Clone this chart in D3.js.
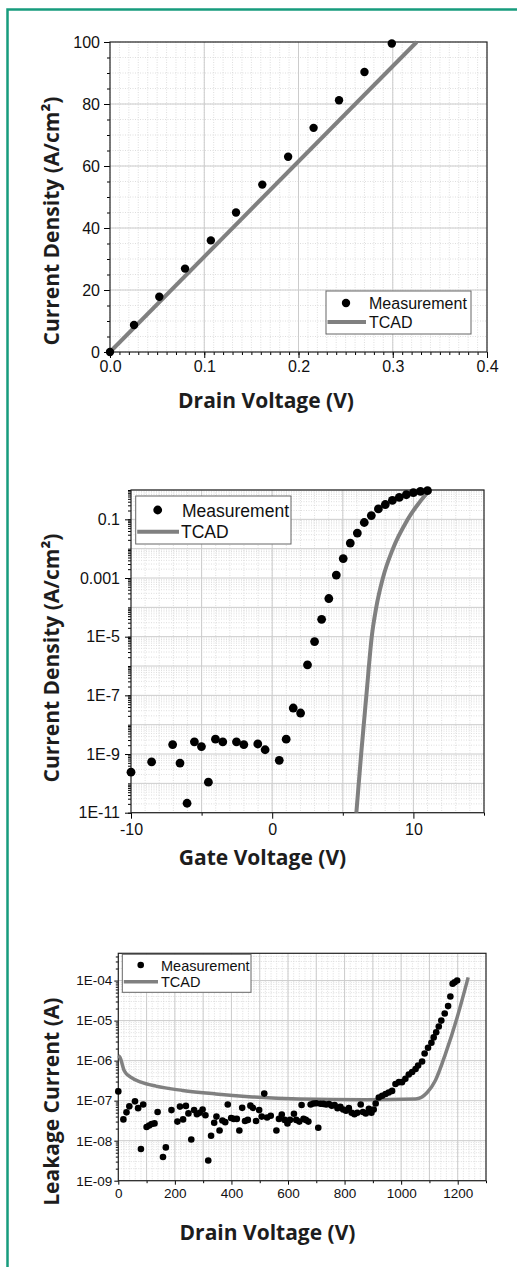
<!DOCTYPE html>
<html>
<head>
<meta charset="utf-8">
<script src="https://cdnjs.cloudflare.com/ajax/libs/d3/7.8.5/d3.min.js"></script>
<style>
body{margin:0;background:#fff;}
.tick text{font-family:"Liberation Sans",Arial,sans-serif;fill:#111;}
.axisTitle{font-family:"Open Sans",sans-serif;font-weight:bold;font-size:21px;fill:#1d1d1d;}
.legendText{font-family:"Liberation Sans",Arial,sans-serif;fill:#111;}
</style>
</head>
<body>
<script>
(function(){

//panel 1: output characteristic
var outVolt = [0, 0.0255, 0.0523, 0.0796, 0.107, 0.1337, 0.1616, 0.189, 0.216, 0.243, 0.270, 0.299];
var outCur = [0, 8.7, 17.8, 26.9, 36, 45, 54, 63, 72.3, 81.2, 90.3, 99.5];
var outTcadVolt = [0, 0.3254];
var outTcadCur = [0, 100];
var outXTicks = [0, 0.1, 0.2, 0.3, 0.4];
var outXLabels = ["0.0", "0.1", "0.2", "0.3", "0.4"];
var outYTicks = [0, 20, 40, 60, 80, 100];
var outYLabels = ["0", "20", "40", "60", "80", "100"];

//panel 2: transfer characteristic
var gateVolt = [-10, -8.54, -7.05, -6.53, -6.03, -5.51, -5.01, -4.52, -4.02, -3.5, -2.53, -2.01,
  -1.02, -0.5, 0.5, 0.99, 1.49, 2.01, 2.5, 3.0, 3.5, 4.01, 4.54, 5.03, 5.53, 6.03, 6.52, 7.02,
  7.52, 8.01, 8.51, 9.0, 9.5, 10, 10.5, 11];
var gateCur = [2.4e-10, 5.4e-10, 2.1e-9, 4.9e-10, 2.1e-11, 2.6e-9, 1.8e-9, 1.1e-10, 3.2e-9, 2.6e-9, 2.6e-9, 2.1e-9,
  2.2e-9, 1.4e-9, 6.1e-10, 3.2e-9, 3.7e-8, 2.5e-8, 1.1e-6, 6.8e-6, 3.9e-5, 2.0e-4, 1.26e-3, 4.6e-3, 0.0155, 0.034, 0.078, 0.134,
  0.226, 0.32, 0.44, 0.56, 0.69, 0.81, 0.9, 0.95];
var gateTcadVolt = [5.96, 6.3, 6.67, 7.05, 7.37, 7.84, 8.55, 9.6, 11.15];
var gateTcadCur = [1e-11, 1e-9, 1e-7, 1e-5, 1e-4, 1e-3, 1e-2, 1e-1, 1];
var gateXTicks = [-10, 0, 10];
var gateXLabels = ["-10", "0", "10"];
var gateYTicks = [1e-1, 1e-3, 1e-5, 1e-7, 1e-9, 1e-11];
var gateYLabels = ["0.1", "0.001", "1E-5", "1E-7", "1E-9", "1E-11"];

//panel 3: blocking characteristic
var leakVolt = [0, 18, 29, 39, 59, 70, 80, 88, 100, 109, 118, 128, 139, 158, 168, 188, 209, 218, 229, 239,
  248, 258, 268, 278, 288, 298, 308, 318, 328, 339, 347, 358, 368, 378, 387, 399, 408, 419, 428, 438,
  448, 458, 467, 476, 487, 498, 507, 516, 526, 539, 559, 568, 578, 588, 598, 607, 621, 629, 640, 648,
  655, 663, 672, 680, 690, 700, 707, 715, 725, 735, 745, 755, 765, 775, 785, 795, 805, 815, 825, 835,
  845, 857, 865, 875, 886, 895, 903, 910, 921, 933, 945, 956, 968, 980, 992, 1003, 1015, 1027, 1039, 1051,
  1060, 1074, 1083, 1095, 1107, 1115, 1124, 1133, 1142, 1154, 1166, 1174, 1182, 1189, 1198];
var leakCur = [1.7e-7, 3.4e-8, 5.1e-8, 7.2e-8, 9.6e-8, 6.5e-8, 6.2e-9, 8.0e-8, 2.2e-8, 2.4e-8, 2.6e-8, 2.7e-8, 5.2e-8, 3.9e-9, 6.8e-9, 5.8e-8, 3.0e-8, 7.1e-8, 3.4e-8, 7.4e-8,
  4.8e-8, 1.07e-8, 5.8e-8, 4.6e-8, 5.0e-8, 6.0e-8, 4.3e-8, 3.2e-9, 1.33e-8, 2.8e-8, 4.0e-8, 1.8e-8, 3.2e-8, 2.9e-8, 8.0e-8, 3.7e-8, 3.5e-8, 3.5e-8, 1.8e-8, 6.6e-8,
  3.1e-8, 3.3e-8, 7.5e-8, 6.6e-8, 3.1e-8, 5.8e-8, 4.0e-8, 1.5e-7, 3.8e-8, 4.2e-8, 1.8e-8, 3.5e-8, 4.5e-8, 3.3e-8, 2.7e-8, 3.3e-8, 4.7e-8, 3.3e-8, 3.0e-8, 7.8e-8,
  3.5e-8, 3.3e-8, 3.0e-8, 8.0e-8, 8.5e-8, 8.6e-8, 2.1e-8, 8.4e-8, 8.3e-8, 8.0e-8, 8.2e-8, 7.5e-8, 7.8e-8, 6.5e-8, 7.0e-8, 6.0e-8, 5.6e-8, 6.5e-8, 5.0e-8, 4.6e-8,
  5.0e-8, 8.0e-8, 5.2e-8, 4.8e-8, 6.3e-8, 5.0e-8, 6.0e-8, 8.5e-8, 1.2e-7, 1.33e-7, 1.47e-7, 1.6e-7, 1.75e-7, 2.6e-7, 2.9e-7, 2.9e-7, 3.5e-7, 4.5e-7, 5.2e-7, 6.2e-7,
  7.5e-7, 9.5e-7, 1.5e-6, 2.1e-6, 2.8e-6, 3.8e-6, 5.1e-6, 7.1e-6, 1.0e-5, 1.5e-5, 2.3e-5, 4.0e-5, 8.3e-5, 9.1e-5, 1.0e-4];
var leakTcadVolt = [0, 6, 21, 45, 80, 133, 227, 345, 462, 639, 874, 1051, 1092, 1121, 1157, 1198, 1237];
var leakTcadCur = [1.33e-6, 1.2e-6, 5.6e-7, 3.8e-7, 2.9e-7, 2.3e-7, 1.8e-7, 1.47e-7, 1.26e-7, 1.1e-7, 1.05e-7, 1.1e-7, 1.6e-7, 3.2e-7, 1.5e-6, 1.2e-5, 1.2e-4];
var leakXTicks = [0, 200, 400, 600, 800, 1000, 1200];
var leakXLabels = ["0", "200", "400", "600", "800", "1000", "1200"];
var leakYTicks = [1e-4, 1e-5, 1e-6, 1e-7, 1e-8, 1e-9];
var leakYLabels = ["1E-04", "1E-05", "1E-06", "1E-07", "1E-08", "1E-09"];

var width = 517,
    height = 1267;

var svg = d3.select("body")
  .append("svg")
  .attr("width", width)
  .attr("height", height);

//green page frame
svg.append("path")
  .attr("d", "M7.5," + height + " V9.5 H" + width)
  .attr("fill", "none")
  .attr("stroke", "#179c7d")
  .attr("stroke-width", 2.5);

//evenly spaced values (for minor grid / ticks)
function steps(a, b, s){
  var out = [];
  var n = Math.round((b - a) / s);
  for (var i = 0; i <= n; i++){ out.push(+(a + i * s).toFixed(6)); };
  return out;
};

//2..9 multiples of each decade inside the domain
function logMinor(lo, hi){
  var out = [];
  for (var e = Math.floor(Math.log10(lo)); e <= Math.ceil(Math.log10(hi)); e++){
    for (var m = 2; m <= 9; m++){
      var v = m * Math.pow(10, e);
      if (v > lo && v < hi) out.push(v);
    };
  };
  return out;
};

function logMajor(lo, hi){
  var out = [];
  for (var e = Math.ceil(Math.log10(lo)); e <= Math.floor(Math.log10(hi)); e++){
    out.push(Math.pow(10, e));
  };
  return out;
};

function drawPanel(p){
  var g = svg.append("g");
  var x = p.x, y = p.y;
  var x0 = x.range()[0], x1 = x.range()[1],
      y0 = y.range()[0], y1 = y.range()[1];

  //minor grid
  g.selectAll(".minorV").data(p.gridXMinor).enter().append("line")
    .attr("x1", function(d){ return x(d); }).attr("x2", function(d){ return x(d); })
    .attr("y1", y1).attr("y2", y0)
    .attr("stroke", "#d6d6d6").attr("stroke-width", 0.8).attr("stroke-dasharray", "1,1.5");
  g.selectAll(".minorH").data(p.gridYMinor).enter().append("line")
    .attr("x1", x0).attr("x2", x1)
    .attr("y1", function(d){ return y(d); }).attr("y2", function(d){ return y(d); })
    .attr("stroke", "#d6d6d6").attr("stroke-width", 0.8).attr("stroke-dasharray", "1,1.5");

  //major grid
  g.selectAll(".majorV").data(p.gridX).enter().append("line")
    .attr("x1", function(d){ return x(d); }).attr("x2", function(d){ return x(d); })
    .attr("y1", y1).attr("y2", y0)
    .attr("stroke", "#cccccc").attr("stroke-width", 1);
  g.selectAll(".majorH").data(p.gridY).enter().append("line")
    .attr("x1", x0).attr("x2", x1)
    .attr("y1", function(d){ return y(d); }).attr("y2", function(d){ return y(d); })
    .attr("stroke", "#cccccc").attr("stroke-width", 1);

  //axes: minor ticks first, then labelled ticks
  g.append("g").attr("transform", "translate(0," + y0 + ")")
    .call(d3.axisBottom(x).tickValues(p.xMinorTicks).tickSize(p.minorSize).tickFormat(""))
    .call(function(a){ a.select(".domain").remove(); });
  g.append("g").attr("transform", "translate(" + x0 + ",0)")
    .call(d3.axisLeft(y).tickValues(p.yMinorTicks).tickSize(p.minorSize).tickFormat(""))
    .call(function(a){ a.select(".domain").remove(); });

  g.append("g").attr("transform", "translate(0," + y0 + ")")
    .call(d3.axisBottom(x).tickValues(p.xTicks).tickSize(p.majorSize).tickPadding(p.xPad)
      .tickFormat(function(d, i){ return p.xLabels[i]; }))
    .call(function(a){ a.select(".domain").remove(); })
    .selectAll("text").style("font-size", p.tickFont + "px");
  g.append("g").attr("transform", "translate(" + x0 + ",0)")
    .call(d3.axisLeft(y).tickValues(p.yTicks).tickSize(p.majorSize).tickPadding(p.yPad)
      .tickFormat(function(d, i){ return p.yLabels[i]; }))
    .call(function(a){ a.select(".domain").remove(); })
    .selectAll("text").style("font-size", p.tickFont + "px");

  //plot frame
  g.append("rect")
    .attr("x", x0).attr("y", y1)
    .attr("width", x1 - x0).attr("height", y0 - y1)
    .attr("fill", "none").attr("stroke", "#222").attr("stroke-width", 1.2);

  //TCAD simulation line
  var line = d3.line()
    .x(function(d){ return x(d[0]); })
    .y(function(d){ return y(d[1]); })
    .curve(d3.curveMonotoneX);
  g.append("path")
    .datum(d3.zip(p.tcadX, p.tcadY))
    .attr("d", line)
    .attr("fill", "none")
    .attr("stroke", "#808080")
    .attr("stroke-width", p.lineWidth);

  //measurement points
  g.selectAll(".meas").data(d3.zip(p.measX, p.measY)).enter().append("circle")
    .attr("cx", function(d){ return x(d[0]); })
    .attr("cy", function(d){ return y(d[1]); })
    .attr("r", p.r)
    .attr("fill", "#000");

  //legend
  var L = p.legend;
  g.append("rect")
    .attr("x", L.x).attr("y", L.y).attr("width", L.w).attr("height", L.h)
    .attr("fill", "#fff").attr("stroke", "#666").attr("stroke-width", 1);
  g.append("circle").attr("cx", L.mx).attr("cy", L.my).attr("r", p.r).attr("fill", "#000");
  g.append("line")
    .attr("x1", L.x + 1.5).attr("x2", L.lx2).attr("y1", L.ly).attr("y2", L.ly)
    .attr("stroke", "#808080").attr("stroke-width", p.lineWidth);
  g.append("text").attr("class", "legendText")
    .attr("x", L.tx).attr("y", L.t1).style("font-size", L.font + "px").text("Measurement");
  g.append("text").attr("class", "legendText")
    .attr("x", L.tx2).attr("y", L.t2).style("font-size", L.font + "px").text("TCAD");

  //axis titles
  g.append("text").attr("class", "axisTitle")
    .attr("transform", "translate(" + p.yTitle[0] + "," + p.yTitle[1] + ") rotate(-90)")
    .attr("text-anchor", "middle").attr("dy", "0.35em")
    .text(p.yTitleText);
  g.append("text").attr("class", "axisTitle")
    .attr("x", p.xTitle[0]).attr("y", p.xTitle[1])
    .attr("text-anchor", "middle")
    .text(p.xTitleText);
};

//panel 1
var x1s = d3.scaleLinear().domain([0, 0.4]).range([110, 487]);
var y1s = d3.scaleLinear().domain([0, 100]).range([352, 42]);
drawPanel({
  x: x1s, y: y1s,
  gridX: [0.1, 0.2, 0.3], gridY: [20, 40, 60, 80],
  gridXMinor: steps(0, 0.4, 0.01), gridYMinor: steps(0, 100, 5),
  xMinorTicks: steps(0, 0.4, 0.01), yMinorTicks: steps(0, 100, 5),
  xTicks: outXTicks, xLabels: outXLabels, yTicks: outYTicks, yLabels: outYLabels,
  majorSize: 6, minorSize: 3, xPad: 3, yPad: 4, tickFont: 16,
  tcadX: outTcadVolt, tcadY: outTcadCur, measX: outVolt, measY: outCur,
  lineWidth: 4, r: 4.2,
  legend: {x: 326, y: 291, w: 145, h: 43, mx: 346, my: 303, lx2: 366, ly: 322,
    tx: 369, tx2: 369, t1: 308.5, t2: 328, font: 16},
  yTitle: [52, 221], yTitleText: "Current Density (A/cm²)",
  xTitle: [266, 408], xTitleText: "Drain Voltage (V)"
});

//panel 2
var x2s = d3.scaleLinear().domain([-10, 15]).range([131, 484]);
var y2s = d3.scaleLog().domain([1e-11, 1]).range([812.7, 490]);
drawPanel({
  x: x2s, y: y2s,
  gridX: [-5, 0, 5, 10], gridY: logMajor(1e-11, 1),
  gridXMinor: steps(-10, 15, 1), gridYMinor: logMinor(1e-11, 1),
  xMinorTicks: [-5, 5, 15], yMinorTicks: logMinor(1e-11, 1).concat(logMajor(1e-11, 1)),
  xTicks: gateXTicks, xLabels: gateXLabels, yTicks: gateYTicks, yLabels: gateYLabels,
  majorSize: 6, minorSize: 3, xPad: 5, yPad: 5, tickFont: 16,
  tcadX: gateTcadVolt, tcadY: gateTcadCur, measX: gateVolt, measY: gateCur,
  lineWidth: 4, r: 4.4,
  legend: {x: 135.7, y: 496, w: 155.3, h: 48, mx: 157.7, my: 510, lx2: 179, ly: 531.7,
    tx: 182, tx2: 181, t1: 516.7, t2: 538.3, font: 17.5},
  yTitle: [52, 658], yTitleText: "Current Density (A/cm²)",
  xTitle: [262.5, 865], xTitleText: "Gate Voltage (V)"
});

//panel 3
var x3s = d3.scaleLinear().domain([0, 1300]).range([118.3, 486]);
var y3s = d3.scaleLog().domain([1e-9, 4.8e-4]).range([1180.7, 953.3]);
drawPanel({
  x: x3s, y: y3s,
  gridX: steps(100, 1200, 100), gridY: logMajor(1e-9, 4.8e-4),
  gridXMinor: steps(0, 1300, 20), gridYMinor: logMinor(1e-9, 4.8e-4),
  xMinorTicks: steps(100, 1300, 200), yMinorTicks: logMinor(1e-9, 4.8e-4),
  xTicks: leakXTicks, xLabels: leakXLabels, yTicks: leakYTicks, yLabels: leakYLabels,
  majorSize: 4, minorSize: 2.5, xPad: 4, yPad: 2, tickFont: 13.5,
  tcadX: leakTcadVolt, tcadY: leakTcadCur, measX: leakVolt, measY: leakCur,
  lineWidth: 3.5, r: 3.3,
  legend: {x: 122.3, y: 954.3, w: 128.7, h: 38, mx: 140.7, my: 965, lx2: 158, ly: 981.7,
    tx: 161, tx2: 161, t1: 970.7, t2: 986.7, font: 14.5},
  yTitle: [52, 1101.7], yTitleText: "Leakage Current (A)",
  xTitle: [267.5, 1240], xTitleText: "Drain Voltage (V)"
});

})();
</script>
</body>
</html>
